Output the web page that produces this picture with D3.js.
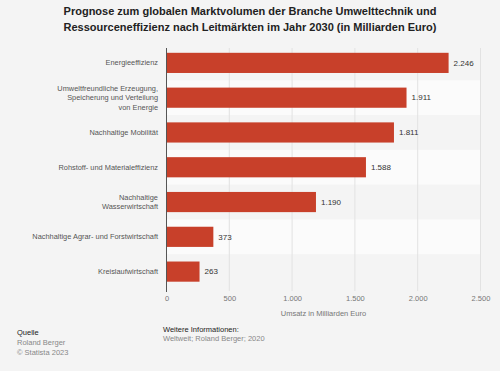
<!DOCTYPE html>
<html>
<head>
<meta charset="utf-8">
<script src="https://cdnjs.cloudflare.com/ajax/libs/d3/7.8.5/d3.min.js"></script>
<style>
  body { margin: 0; background: #f4f4f4; }
  svg { display: block; font-family: "Liberation Sans", Arial, sans-serif; }
</style>
</head>
<body>
<div id="chart"></div>
<script>
// Leitmärkte (categories), label lines as shown in the chart
const categories = [
  ["Energieeffizienz"],
  ["Umweltfreundliche Erzeugung,", "Speicherung und Verteilung", "von Energie"],
  ["Nachhaltige Mobilität"],
  ["Rohstoff- und Materialeffizienz"],
  ["Nachhaltige", "Wasserwirtschaft"],
  ["Nachhaltige Agrar- und Forstwirtschaft"],
  ["Kreislaufwirtschaft"]
];
const values = [2246, 1911, 1811, 1588, 1190, 373, 263];
const xTicks = [0, 500, 1000, 1500, 2000, 2500];

const width = 500, height = 371;
const margin = { left: 166.5, right: 20, top: 45.5, bottom: 82 };

const svg = d3.select("#chart").append("svg")
  .attr("width", width)
  .attr("height", height);

svg.append("rect").attr("width", width).attr("height", height).attr("fill", "#f4f4f4");

// German number format: 1.000
const fmt = d3.formatLocale({ decimal: ",", thousands: ".", grouping: [3], currency: ["", "€"] }).format(",d");

const x = d3.scaleLinear().domain([0, 2500]).range([margin.left, 480.5]);
const y = d3.scaleBand()
  .domain(d3.range(categories.length))
  .range([margin.top, height - margin.bottom])
  .paddingInner(0.42)
  .paddingOuter(0.21);

// alternating row stripes
const step = y.step();
svg.append("g")
  .selectAll("rect")
  .data(d3.range(categories.length).filter(i => i % 2 === 1))
  .join("rect")
  .attr("x", x(0))
  .attr("width", x(2500) - x(0))
  .attr("y", i => y(i) + y.bandwidth() / 2 - step / 2)
  .attr("height", step)
  .attr("fill", "#fbfbfb");

// vertical gridlines
svg.append("g")
  .selectAll("line")
  .data(xTicks.slice(1))
  .join("line")
  .attr("x1", d => x(d)).attr("x2", d => x(d))
  .attr("y1", 48).attr("y2", 291)
  .attr("stroke", "#e2e2e2")
  .attr("stroke-width", 1);

// bars
svg.append("g")
  .selectAll("rect")
  .data(values)
  .join("rect")
  .attr("x", x(0))
  .attr("y", (d, i) => y(i))
  .attr("width", d => x(d) - x(0))
  .attr("height", y.bandwidth())
  .attr("fill", "#c8402a");

// value labels
svg.append("g")
  .selectAll("text")
  .data(values)
  .join("text")
  .attr("x", d => x(d) + 5)
  .attr("y", (d, i) => y(i) + y.bandwidth() / 2)
  .attr("dy", "0.35em")
  .attr("font-size", 8)
  .attr("fill", "#333")
  .text(d => fmt(d));

// category labels
const catG = svg.append("g");
categories.forEach((lines, i) => {
  const cy = y(i) + y.bandwidth() / 2;
  const lh = 9.6;
  const t = catG.append("text")
    .attr("text-anchor", "end")
    .attr("font-size", 7.4)
    .attr("fill", "#555");
  lines.forEach((ln, j) => {
    t.append("tspan")
      .attr("x", 158)
      .attr("y", cy + (j - (lines.length - 1) / 2) * lh)
      .attr("dy", "0.35em")
      .text(ln);
  });
});

// y axis line
svg.append("line")
  .attr("x1", x(0)).attr("x2", x(0))
  .attr("y1", 48).attr("y2", 292)
  .attr("stroke", "#555")
  .attr("stroke-width", 1);

// x axis tick labels
const xAxis = d3.axisBottom(x).tickValues(xTicks).tickSize(0).tickFormat(fmt);
const ax = svg.append("g").attr("transform", "translate(0,293)").call(xAxis);
ax.select(".domain").remove();
ax.selectAll("text").attr("font-size", 7.5).attr("fill", "#777").attr("font-family", "Liberation Sans, Arial, sans-serif");

svg.append("text")
  .attr("x", (x(0) + x(2500)) / 2)
  .attr("y", 316)
  .attr("text-anchor", "middle")
  .attr("font-size", 7.5)
  .attr("fill", "#777")
  .text("Umsatz in Milliarden Euro");

// title
const title = svg.append("text")
  .attr("text-anchor", "middle")
  .attr("font-size", 11)
  .attr("font-weight", "bold")
  .attr("fill", "#222");
["Prognose zum globalen Marktvolumen der Branche Umwelttechnik und",
 "Ressourceneffizienz nach Leitmärkten im Jahr 2030 (in Milliarden Euro)"].forEach((ln, j) => {
  title.append("tspan").attr("x", 250).attr("y", 15 + j * 16).text(ln);
});

// footer
svg.append("text").attr("x", 17).attr("y", 335).attr("font-size", 7.5).attr("fill", "#222").text("Quelle");
svg.append("text").attr("x", 17).attr("y", 345).attr("font-size", 7.5).attr("fill", "#888").text("Roland Berger");
svg.append("text").attr("x", 17).attr("y", 355).attr("font-size", 7.5).attr("fill", "#888").text("© Statista 2023");
svg.append("text").attr("x", 163).attr("y", 332).attr("font-size", 7.5).attr("fill", "#222").text("Weitere Informationen:");
svg.append("text").attr("x", 163).attr("y", 341).attr("font-size", 7.5).attr("fill", "#888").text("Weltweit; Roland Berger; 2020");
</script>
</body>
</html>
